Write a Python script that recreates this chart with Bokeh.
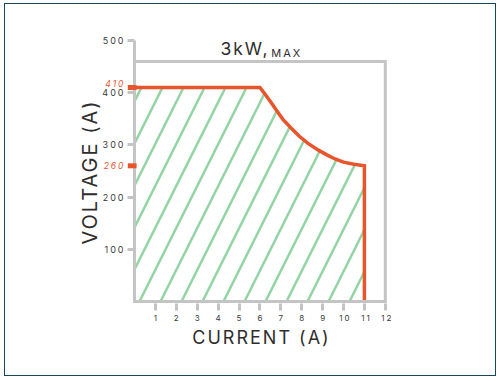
import math
from bokeh.plotting import figure
from bokeh.models import Range1d, FixedTicker, Label
from bokeh.embed import file_html
from bokeh.resources import INLINE

# ---- data ----
current_ticks = [1, 2, 3, 4, 5, 6, 7, 8, 9, 10, 11, 12]
voltage_ticks = [100, 200, 300, 400, 500]
marked_voltages = [410, 260]
marked_labels = ["410", "260"]
marked_label_nudge = [4, 0]
curve_current = [6.0, 6.25, 6.5, 6.8, 7.1, 7.5, 7.9, 8.3, 8.8, 9.2, 9.6, 10.0, 10.5, 11.0]
curve_voltage = [410, 397, 383, 366, 349, 332, 316, 303, 290, 281, 273, 267, 263, 260]
frame_current = [0, 0, 12, 12, 0]
frame_voltage = [500, 0, 0, 460, 460]

path_i = [0] + curve_current + [curve_current[-1]]
path_v = [curve_voltage[0]] + curve_voltage + [0]

RED = "#e8542b"
GRAY = "#c4c4c4"
GREEN = "#93d4a3"
TXT = "#3a3a3a"
DARK = "#2e2e2e"
FONT = "Inter"

p = figure(width=492, height=373, output_backend="svg", toolbar_location=None,
           x_range=Range1d(-4.115, 15.215), y_range=Range1d(-3.8, 523),
           min_border_left=44, min_border_right=44, min_border_top=25, min_border_bottom=73,
           background_fill_color=None, border_fill_color=None)
p.styles = {"margin-left": "4px", "margin-top": "3px", "background": "white",
            "outline": "1.5px solid #17475a", "outline-offset": "-1.5px",
            "letter-spacing": "2px"}
p.outline_line_color = None
p.grid.visible = False

# hatched region
p.patch(path_i + [0], path_v + [0], fill_color=None, line_color=None,
        hatch_pattern="/", hatch_color=GREEN, hatch_scale=42, hatch_weight=2.5)
# red envelope
p.line(path_i, path_v, line_color=RED, line_width=3.5, line_join="miter")
# gray axis lines and box
p.line(frame_current, frame_voltage, line_color=GRAY, line_width=3, line_join="miter")
# red markers on the axis
p.segment(x0=[-0.32] * 2, y0=marked_voltages, x1=[0.1] * 2, y1=marked_voltages,
          line_color=RED, line_width=5, line_cap="butt", level="overlay")
for v, t, n in zip(marked_voltages, marked_labels, marked_label_nudge):
    p.add_layout(Label(x=-0.72, y=v, y_offset=n, text=t, text_align="right",
                       text_baseline="middle", text_color=RED, text_font_style="italic",
                       text_font_size="8.5px", text_font=FONT))

# axes
xa = p.xaxis[0]
xa.ticker = FixedTicker(ticks=current_ticks)
xa.axis_line_color = None
xa.major_tick_line_color = GRAY
xa.major_tick_line_width = 3
xa.major_tick_out = 7
xa.major_tick_in = 0
xa.minor_tick_line_color = None
xa.major_label_text_font_size = "8px"
xa.major_label_text_color = TXT
xa.major_label_text_font = FONT
xa.major_label_standoff = 4
xa.axis_label = "CURRENT (A)"
xa.axis_label_text_font = FONT
xa.axis_label_text_font_size = "18px"
xa.axis_label_text_font_style = "normal"
xa.axis_label_text_color = DARK
xa.axis_label_standoff = 3

ya = p.yaxis[0]
ya.fixed_location = 0
ya.ticker = FixedTicker(ticks=voltage_ticks)
ya.axis_line_color = None
ya.major_tick_line_color = GRAY
ya.major_tick_line_width = 3
ya.major_tick_out = 7
ya.major_tick_in = 0
ya.minor_tick_line_color = None
ya.major_label_text_font_size = "9px"
ya.major_label_text_color = TXT
ya.major_label_text_font = FONT
ya.major_label_standoff = 8

p.add_layout(Label(x=-2.15, y=227, text="VOLTAGE (A)", angle=math.pi / 2,
                   text_align="center", text_baseline="middle",
                   text_font=FONT, text_font_size="20px", text_color=DARK))

# title
p.add_layout(Label(x=4.11, y=485.3, text="3kW,", text_baseline="alphabetic",
                   text_font=FONT, text_font_size="17.5px", text_color=DARK))
p.add_layout(Label(x=6.54, y=476, text="MAX", text_baseline="alphabetic",
                   text_font=FONT, text_font_size="11px", text_color=DARK))

open("out.html", "w").write(file_html(p, INLINE))
